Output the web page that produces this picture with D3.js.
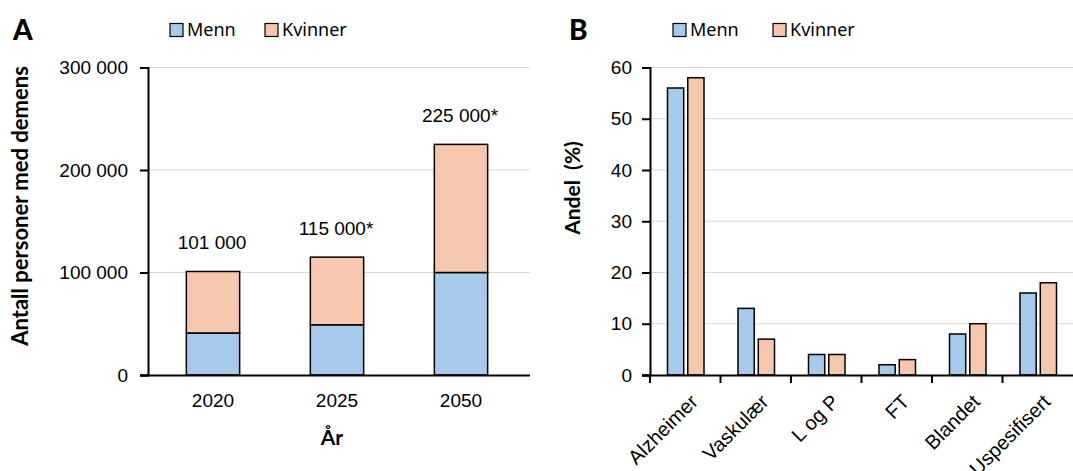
<!DOCTYPE html>
<html><head><meta charset="utf-8">
<script src="https://cdn.jsdelivr.net/npm/d3@7"></script>
<style>body{margin:0;background:#fff}svg{display:block}</style>
</head><body>
<script>
// Panel A data
const years = ["2020", "2025", "2050"];
const menn = [41000, 49000, 100000];
const kvinner = [60000, 66000, 125000];
const totalLabels = ["101 000", "115 000*", "225 000*"];
const yTicksA = [0, 100000, 200000, 300000];
const yTickLabelsA = ["0", "100 000", "200 000", "300 000"];
// Panel B data
const types = ["Alzheimer", "Vaskulær", "L og P", "FT", "Blandet", "Uspesifisert"];
const mennPct = [56, 13, 4, 2, 8, 16];
const kvinnerPct = [58, 7, 4, 3, 10, 18];
const yTicksB = [0, 10, 20, 30, 40, 50, 60];
const seriesNames = ["Menn", "Kvinner"];

const W = 1073, H = 471;
const colors = {Menn: "#A6CAEC", Kvinner: "#F6C6AD"};
const numFont = "'Liberation Sans', Arial, sans-serif";
const labFont = "'Noto Sans', sans-serif";
const boldFont = "Lato, 'Noto Sans', sans-serif";

const svg = d3.select("body").append("svg").attr("width", W).attr("height", H);

// ---------- Panel A ----------
const yA = d3.scaleLinear().domain([0, 300000]).range([375, 67.5]);
const xA = d3.scaleBand().domain(years).range([151, 523]);
const gridA = svg.append("g");
gridA.selectAll("line").data(yTicksA.filter(d => d > 0)).join("line")
  .attr("x1", 148).attr("x2", 530).attr("y1", d => yA(d)).attr("y2", d => yA(d))
  .attr("stroke", "#d9d9d9").attr("stroke-width", 1.2);

const bwA = xA.bandwidth() * 0.43;
const stackA = years.map((y, i) => ({year: y, m: menn[i], k: kvinner[i], label: totalLabels[i]}));
const gA = svg.append("g");
gA.selectAll("rect.m").data(stackA).join("rect").attr("class", "m")
  .attr("x", d => xA(d.year) + (xA.bandwidth() - bwA) / 2).attr("width", bwA)
  .attr("y", d => yA(d.m)).attr("height", d => yA(0) - yA(d.m))
  .attr("fill", colors.Menn).attr("stroke", "#000").attr("stroke-width", 1.5);
gA.selectAll("rect.k").data(stackA).join("rect").attr("class", "k")
  .attr("x", d => xA(d.year) + (xA.bandwidth() - bwA) / 2).attr("width", bwA)
  .attr("y", d => yA(d.m + d.k)).attr("height", d => yA(d.m) - yA(d.m + d.k))
  .attr("fill", colors.Kvinner).attr("stroke", "#000").attr("stroke-width", 1.5);
gA.selectAll("text.v").data(stackA).join("text").attr("class", "v")
  .attr("x", d => xA(d.year) + xA.bandwidth() / 2 - 1).attr("y", d => yA(d.m + d.k) - 22)
  .attr("text-anchor", "middle").attr("font-family", numFont).attr("font-size", 19)
  .attr("fill", "#000").text(d => d.label);

svg.append("g").attr("transform", "translate(148,0)")
  .call(d3.axisLeft(yA).tickValues(yTicksA).tickFormat((d, i) => yTickLabelsA[i]).tickSizeOuter(0).tickSize(8).tickPadding(12));
const axAx = svg.append("g").attr("transform", "translate(0,375)")
  .call(d3.axisBottom(xA).tickSize(0).tickSizeOuter(0).tickPadding(19));
axAx.select(".domain").attr("d", "M140,0.5H530");

// ---------- Panel B ----------
const yB = d3.scaleLinear().domain([0, 60]).range([375, 67.5]);
const xB = d3.scaleBand().domain(types).range([650, 1073]);
const xSub = d3.scaleBand().domain(seriesNames).range([17.5, xB.bandwidth() - 16.5]).paddingInner(0.2);
svg.append("g").selectAll("line").data(yTicksB.filter(d => d > 0)).join("line")
  .attr("x1", 650).attr("x2", W).attr("y1", d => yB(d)).attr("y2", d => yB(d))
  .attr("stroke", "#d9d9d9").attr("stroke-width", 1.2);
const dataB = types.map((t, i) => ({type: t, vals: [{s: "Menn", v: mennPct[i]}, {s: "Kvinner", v: kvinnerPct[i]}]}));
svg.append("g").selectAll("g").data(dataB).join("g")
  .attr("transform", d => `translate(${xB(d.type)},0)`)
  .selectAll("rect").data(d => d.vals).join("rect")
  .attr("x", d => xSub(d.s)).attr("width", xSub.bandwidth())
  .attr("y", d => yB(d.v)).attr("height", d => yB(0) - yB(d.v))
  .attr("fill", d => colors[d.s]).attr("stroke", "#000").attr("stroke-width", 1.5);

svg.append("g").attr("transform", "translate(650,0)")
  .call(d3.axisLeft(yB).tickValues(yTicksB).tickSizeOuter(0).tickSize(8).tickPadding(10));
const axBx = svg.append("g").attr("transform", "translate(0,375)");
axBx.append("line").attr("x1", 642).attr("x2", W).attr("y1", 0.5).attr("y2", 0.5).attr("stroke", "#000").attr("stroke-width", 2);
axBx.selectAll("line.t").data(types).join("line").attr("class", "t")
  .attr("x1", d => xB(d)).attr("x2", d => xB(d)).attr("y1", 0).attr("y2", 8)
  .attr("stroke", "#000").attr("stroke-width", 2);
axBx.selectAll("text").data(types).join("text")
  .attr("transform", d => `translate(${xB(d) + xB.bandwidth() / 2 + 9},${23}) rotate(-45)`)
  .attr("text-anchor", "end").attr("font-family", numFont).attr("font-size", 20)
  .attr("dy", "0.35em").text(d => d);

// Axis styling
svg.selectAll(".tick text").attr("font-family", numFont).attr("font-size", 19).attr("fill", "#000");
svg.selectAll(".domain").attr("stroke", "#000").attr("stroke-width", 2);
svg.selectAll(".tick line").attr("stroke", "#000").attr("stroke-width", 2);

// Titles
svg.append("text").attr("transform", "translate(28,206) rotate(-90)").attr("text-anchor", "middle")
  .attr("font-family", boldFont).attr("font-weight", "bold").attr("font-size", 22).text("Antall personer med demens");
svg.append("text").attr("transform", "translate(580,188) rotate(-90)").attr("text-anchor", "middle")
  .attr("font-family", boldFont).attr("font-weight", "bold").attr("font-size", 21).attr("xml:space", "preserve").text("Andel  (%)");
svg.append("text").attr("x", 332).attr("y", 445).attr("text-anchor", "middle")
  .attr("font-family", boldFont).attr("font-weight", "bold").attr("font-size", 21).text("År");
svg.append("text").attr("x", 13).attr("y", 40).attr("font-family", boldFont).attr("font-weight", 900).attr("font-size", 28).text("A");
svg.append("text").attr("x", 569).attr("y", 40).attr("font-family", boldFont).attr("font-weight", 900).attr("font-size", 28).text("B");

// Legends
function legend(x0, x1) {
  const g = svg.append("g");
  const items = [{s: "Menn", x: x0}, {s: "Kvinner", x: x1}];
  g.selectAll("rect").data(items).join("rect")
    .attr("x", d => d.x).attr("y", 23.5).attr("width", 13).attr("height", 13)
    .attr("fill", d => colors[d.s]).attr("stroke", "#000").attr("stroke-width", 1.2);
  g.selectAll("text").data(items).join("text")
    .attr("x", d => d.x + 17).attr("y", 30).attr("dy", "0.35em")
    .attr("font-family", labFont).attr("font-size", 18).text(d => d.s);
}
legend(170, 265);
legend(673, 773);
</script>
</body></html>
